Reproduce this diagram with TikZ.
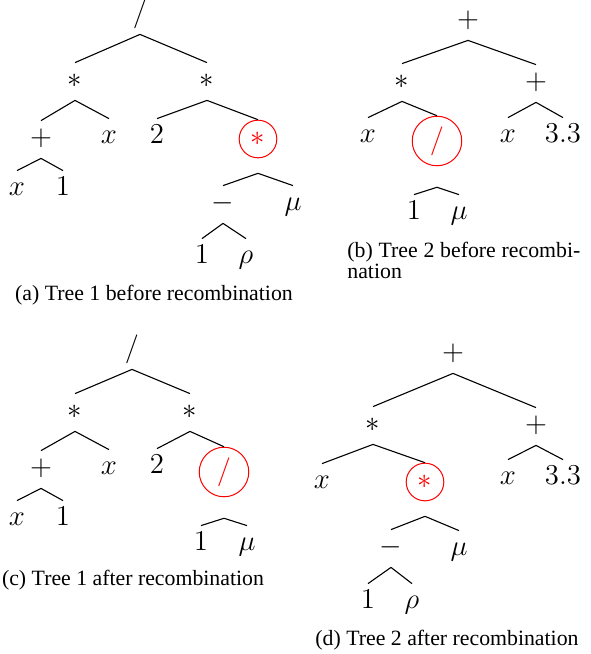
\documentclass[tikz,border=0pt]{standalone}
\usepackage[no-math]{fontspec}
\setmainfont{Liberation Serif}
\usepackage{amsmath}
\usepackage{tikz}

\begin{document}
\begin{tikzpicture}[
        x=0.5pt, y=-0.5pt,
        lbl/.style={anchor=base, inner sep=0pt, text height=12pt, text depth=6.5pt, font=\fontsize{14}{16}\selectfont},
        sel/.style={circle, draw=red, text=red, line width=0.5pt, inner sep=3.2pt, font=\fontsize{14}{16}\selectfont},
        branch/.style={line width=0.55pt},
        subcap/.style={anchor=base, inner sep=0pt, font=\fontsize{10.9}{10.5}\selectfont}
        ]
        \useasboundingbox (0,0) rectangle (590,654);

        % (a) tree 1 before
        \node[lbl] (a0) at (140,21) {$/$};
        \node[lbl] (a1) at (75,87) {$*$};
        \node[lbl] (a2) at (207,87) {$*$};
        \node[lbl] (a11) at (41,145) {$+$};
        \node[lbl] (a12) at (109,143) {$x$};
        \node[lbl] (a111) at (17,195) {$x$};
        \node[lbl] (a112) at (63,195) {$1$};
        \node[lbl] (a21) at (157,143) {$2$};
        \node[sel] (a22) at (258,139) {$*$};
        \node[lbl] (a221) at (223,210) {$-$};
        \node[lbl] (a222) at (293,210) {$\mu$};
        \node[lbl] (a2211) at (202,263) {$1$};
        \node[lbl] (a2212) at (246,263) {$\rho$};
        \node[subcap] (capa) at (154,300) {(a) Tree 1 before recombination};

        \draw[branch] (a0.south) -- (a1.north);
        \draw[branch] (a0.south) -- (a2.north);
        \draw[branch] (a1.south) -- (a11.north);
        \draw[branch] (a1.south) -- (a12.north);
        \draw[branch] (a11.south) -- (a111.north);
        \draw[branch] (a11.south) -- (a112.north);
        \draw[branch] (a2.south) -- (a21.north);
        \draw[branch] (a2.south) -- (a22.north);
        \draw[branch] ([yshift=-7.5pt]a22.south) -- (a221.north);
        \draw[branch] ([yshift=-7.5pt]a22.south) -- (a222.north);
        \draw[branch] (a221.south) -- (a2211.north);
        \draw[branch] (a221.south) -- (a2212.north);

        % (b) tree 2 before
        \node[lbl] (b0) at (468,27) {$+$};
        \node[lbl] (b1) at (402,88) {$*$};
        \node[lbl] (b2) at (536,89) {$+$};
        \node[lbl] (b11) at (368,142) {$x$};
        \node[sel] (b12) at (437,141) {$/$};
        \node[lbl] (b21) at (508,142) {$x$};
        \node[lbl] (b22) at (563,142) {$3.3$};
        \node[lbl] (b121) at (414,219) {$1$};
        \node[lbl] (b122) at (459,219) {$\mu$};
        \node[subcap, anchor=base west, text width=116.5pt, align=justify] (capb) at (347,257)
            {(b) Tree 2 before recombi-\linebreak nation};

        \draw[branch] (b0.south) -- (b1.north);
        \draw[branch] (b0.south) -- (b2.north);
        \draw[branch] (b1.south) -- (b11.north);
        \draw[branch] (b1.south) -- (b12.north);
        \draw[branch] (b2.south) -- (b21.north);
        \draw[branch] (b2.south) -- (b22.north);
        \draw[branch] ([yshift=-10.5pt]b12.south) -- (b121.north);
        \draw[branch] ([yshift=-10.5pt]b12.south) -- (b122.north);

        % (c) tree 1 after
        \node[lbl] (c0) at (132,356) {$/$};
        \node[lbl] (c1) at (75,418) {$*$};
        \node[lbl] (c2) at (190,418) {$*$};
        \node[lbl] (c11) at (41,475) {$+$};
        \node[lbl] (c12) at (109,474) {$x$};
        \node[lbl] (c111) at (17,525) {$x$};
        \node[lbl] (c112) at (63,525) {$1$};
        \node[lbl] (c21) at (157,473) {$2$};
        \node[sel] (c22) at (224,472) {$/$};
        \node[lbl] (c221) at (201,550) {$1$};
        \node[lbl] (c222) at (247,550) {$\mu$};
        \node[subcap] (capc) at (133,585) {(c) Tree 1 after recombination};

        \draw[branch] (c0.south) -- (c1.north);
        \draw[branch] (c0.south) -- (c2.north);
        \draw[branch] (c1.south) -- (c11.north);
        \draw[branch] (c1.south) -- (c12.north);
        \draw[branch] (c11.south) -- (c111.north);
        \draw[branch] (c11.south) -- (c112.north);
        \draw[branch] (c2.south) -- (c21.north);
        \draw[branch] (c2.south) -- (c22.north);
        \draw[branch] ([yshift=-10.5pt]c22.south) -- (c221.north);
        \draw[branch] ([yshift=-10.5pt]c22.south) -- (c222.north);

        % (d) tree 2 after
        \node[lbl] (d0) at (453,360) {$+$};
        \node[lbl] (d1) at (373,431) {$*$};
        \node[lbl] (d2) at (536,432) {$+$};
        \node[lbl] (d11) at (322,488) {$x$};
        \node[sel] (d12) at (425,482) {$*$};
        \node[lbl] (d21) at (508,484) {$x$};
        \node[lbl] (d22) at (563,484) {$3.3$};
        \node[lbl] (d121) at (391,554) {$-$};
        \node[lbl] (d122) at (459,555) {$\mu$};
        \node[lbl] (d1211) at (368,608) {$1$};
        \node[lbl] (d1212) at (412,608) {$\rho$};
        \node[subcap] (capd) at (447,645) {(d) Tree 2 after recombination};

        \draw[branch] (d0.south) -- (d1.north);
        \draw[branch] (d0.south) -- (d2.north);
        \draw[branch] (d1.south) -- (d11.north);
        \draw[branch] (d1.south) -- (d12.north);
        \draw[branch] (d2.south) -- (d21.north);
        \draw[branch] (d2.south) -- (d22.north);
        \draw[branch] ([yshift=-7.5pt]d12.south) -- (d121.north);
        \draw[branch] ([yshift=-7.5pt]d12.south) -- (d122.north);
        \draw[branch] (d121.south) -- (d1211.north);
        \draw[branch] (d121.south) -- (d1212.north);
    \end{tikzpicture}
\end{document}
